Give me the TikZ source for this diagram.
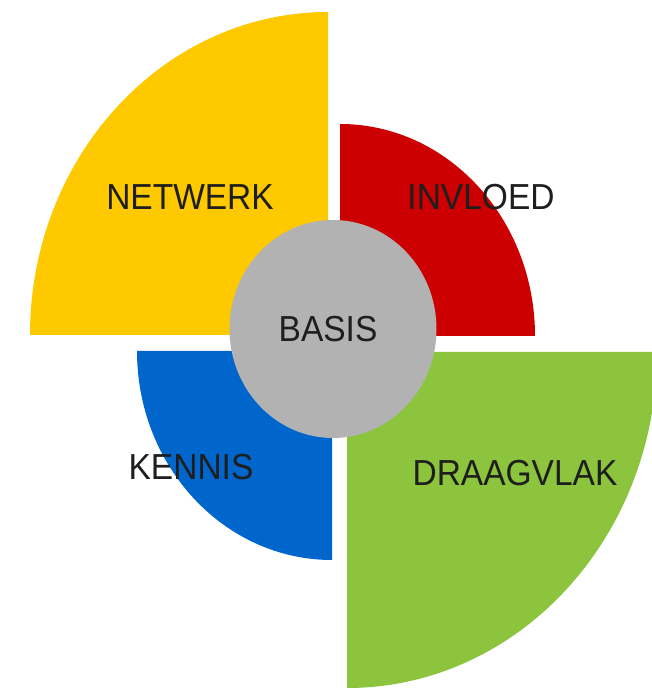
\documentclass[tikz,border=0pt]{standalone}
\usepackage{fontspec}
\setmainfont{Liberation Sans}
\definecolor{wyellow}{RGB}{255,201,0}
\definecolor{wred}{RGB}{204,0,0}
\definecolor{wgreen}{RGB}{140,196,62}
\definecolor{wblue}{RGB}{0,102,204}
\definecolor{wgray}{RGB}{178,178,178}
\definecolor{wtext}{RGB}{30,30,30}
\begin{document}
\begin{tikzpicture}[x=1pt,y=1pt,
  lbl/.style={text=wtext, font=\fontsize{33.5}{40}\selectfont, inner sep=0pt, yscale=1.08, transform shape}]
\useasboundingbox (0,0) rectangle (652,690);
\clip (0,0) rectangle (652,690);
\fill[white] (0,0) rectangle (652,690);
% yellow (top-left)
\fill[wyellow] (328,355) -- (328,678) arc[start angle=90, end angle=180, x radius=298, y radius=323] -- cycle;
% red (top-right)
\fill[wred] (340,354) -- (535,354) arc[start angle=0, end angle=90, x radius=195, y radius=212] -- cycle;
% green (bottom-right)
\fill[wgreen] (347,338) -- (347,2) arc[start angle=270, end angle=360, x radius=310, y radius=336] -- cycle;
% blue (bottom-left)
\fill[wblue] (332,339) -- (137,339) arc[start angle=180, end angle=270, x radius=195, y radius=209] -- cycle;
% center
\fill[wgray] (333,361) ellipse[x radius=103.5, y radius=109];
\node[lbl] (netwerk) at (190,493) {NETWERK};
\node[lbl] (invloed) at (481,493) {INVLOED};
\node[lbl] (basis) at (328,361) {BASIS};
\node[lbl] (kennis) at (191,223) {KENNIS};
\node[lbl] (draagvlak) at (515,217) {DRAAGVLAK};
\end{tikzpicture}
\end{document}
